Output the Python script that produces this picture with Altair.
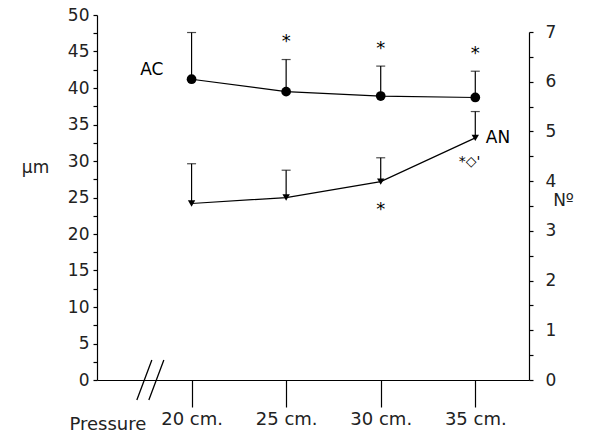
import altair as alt
import pandas as pd

FONT = "DejaVu Sans"

# ---- data ----
pressure = [20, 25, 30, 35]                 # cm
ac_um = [41.2, 39.5, 38.9, 38.7]            # AC, left axis (µm)
ac_sd = [6.4, 4.4, 4.1, 3.6]
an_n = [3.55, 3.67, 3.99, 4.87]             # AN, right axis (Nº)
an_sd = [0.80, 0.55, 0.48, 0.53]

star_p = [25, 30, 35, 30]                   # significance marks
star_um = [47.0, 46.0, 45.3, 24.0]
star_txt = ["*", "*", "*", "*"]

extra_p = [34.7]
extra_um = [29.9]
extra_txt = ["*◇'"]

label_p = [17.9, 36.2]
label_um = [42.5, 33.2]
label_txt = ["AC", "AN"]

break_p = [17.82]                           # axis-break mark on the x axis
break_um = [0]

left_ticks = [i * 2.5 for i in range(21)]
right_ticks = [i * 0.5 for i in range(15)]

ac = pd.DataFrame({"p": pressure, "v": ac_um, "sd": ac_sd})
an = pd.DataFrame({"p": pressure, "v": an_n, "sd": an_sd})
stars = pd.DataFrame({"p": star_p, "v": star_um, "t": star_txt})
extra = pd.DataFrame({"p": extra_p, "v": extra_um, "t": extra_txt})
labels = pd.DataFrame({"p": label_p, "v": label_um, "t": label_txt})
brk = pd.DataFrame({"p": break_p, "v": break_um})

H = 365
xscale = alt.Scale(domain=[15, 37.84], nice=False, zero=False)
lscale = alt.Scale(domain=[0, 50], nice=False)
rscale = alt.Scale(domain=[0, 7], nice=False, range=[H, 17])

x_axis = alt.Axis(values=pressure, labelExpr="datum.value + ' cm.'", tickSize=27,
                  labelPadding=3, labelFontSize=18, labelFont=FONT, title="Pressure",
                  titleFont=FONT, titleFontSize=18, titleFontWeight="normal",
                  titleX=-28, titleY=44, titleAlign="left", titleBaseline="middle",
                  grid=False)
left_axis = alt.Axis(orient="left", values=left_ticks,
                     labelExpr="datum.value % 5 === 0 ? '' + datum.value : ''",
                     tickSize=4, labelPadding=4, labelFontSize=17, labelFont=FONT,
                     title="µm", titleFont=FONT, titleFontSize=17, titleFontWeight="normal",
                     titleAngle=0, titleX=-62, titleY=152, titleAlign="center",
                     titleBaseline="middle", grid=False)
right_axis = alt.Axis(orient="right", values=right_ticks,
                      labelExpr="datum.value % 1 === 0 ? '' + datum.value : ''",
                      tickSize=4, labelPadding=12, labelFontSize=17, labelFont=FONT,
                      title="Nº", titleFont=FONT, titleFontSize=17, titleFontWeight="normal",
                      titleAngle=0, titleX=34, titleY=185, titleAlign="center",
                      titleBaseline="middle", grid=False)

X = alt.X("p:Q", scale=xscale, axis=x_axis)

def YL(field):
    return alt.Y(field, type="quantitative", scale=lscale, axis=left_axis)

def YR(field):
    return alt.Y(field, type="quantitative", scale=rscale, axis=right_axis)

# ---- left (µm) group ----
ac_base = alt.Chart(ac).transform_calculate(top="datum.v + datum.sd")
ac_line = ac_base.mark_line(color="black", strokeWidth=1.2).encode(x=X, y=YL("v"))
ac_err = ac_base.mark_rule(color="black", strokeWidth=1.2).encode(
    x=X, y=YL("v"), y2=alt.Y2("top:Q"))
ac_cap = ac_base.mark_tick(color="black", orient="horizontal", size=9, thickness=1.2).encode(
    x=X, y=YL("top"))
ac_pts = ac_base.mark_point(shape="circle", filled=True, color="black", size=95,
                            opacity=1).encode(x=X, y=YL("v"))

star_layer = alt.Chart(stars).mark_text(font=FONT, fontSize=18, color="black",
                                        baseline="middle", dy=5).encode(
    x=X, y=YL("v"), text="t:N")
extra_layer = alt.Chart(extra).mark_text(font=FONT, fontSize=14, color="black",
                                         baseline="middle").encode(
    x=X, y=YL("v"), text="t:N")
label_layer = alt.Chart(labels).mark_text(font=FONT, fontSize=17, color="black",
                                          baseline="middle").encode(
    x=X, y=YL("v"), text="t:N")
break_layer = alt.Chart(brk).mark_point(
    shape="M-0.675,1L0.075,-1M-0.075,1L0.675,-1", filled=False, color="black",
    strokeWidth=1.3, size=1600, opacity=1).encode(x=X, y=YL("v"))

left = alt.layer(ac_line, ac_err, ac_cap, ac_pts, star_layer, extra_layer,
                 label_layer, break_layer)

# ---- right (Nº) group ----
an_base = alt.Chart(an).transform_calculate(top="datum.v + datum.sd")
an_line = an_base.mark_line(color="black", strokeWidth=1.2).encode(x=X, y=YR("v"))
an_err = an_base.mark_rule(color="black", strokeWidth=1.2).encode(
    x=X, y=YR("v"), y2=alt.Y2("top:Q"))
an_cap = an_base.mark_tick(color="black", orient="horizontal", size=9, thickness=1.2).encode(
    x=X, y=YR("top"))
an_pts = an_base.mark_point(shape="triangle-down", filled=True, color="black", size=55,
                            opacity=1).encode(x=X, y=YR("v"))

right = alt.layer(an_line, an_err, an_cap, an_pts)

chart = alt.layer(left, right).resolve_scale(y="independent").properties(
    width=432, height=H,
    padding={"left": 97, "top": 15, "right": 68, "bottom": 56},
    autosize=alt.AutoSizeParams(type="none"),
    background="white",
).configure_view(stroke=None).configure_axis(
    grid=False, domainColor="black", tickColor="black", labelColor="#222",
    titleColor="#222", domainWidth=1.2, tickWidth=1.2,
)

chart.save("out.html", embed_options={"renderer": "svg", "actions": False})
